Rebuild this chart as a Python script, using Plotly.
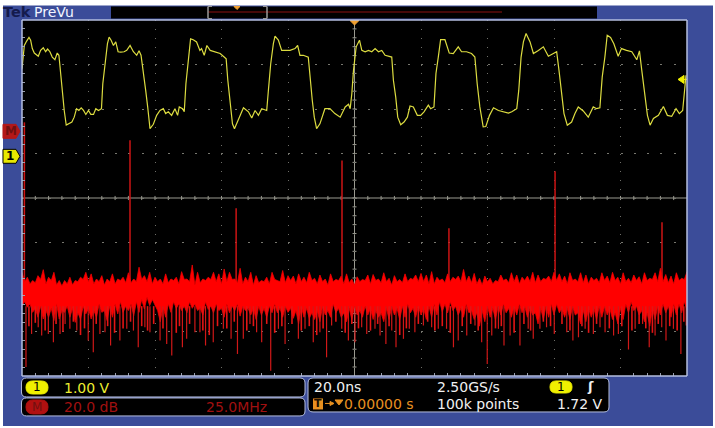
import plotly.graph_objects as go

# Channel 1 trace: time in ns, level in volts (1 V/div)
ch1_time = [-100.0, -99.6, -99.3, -98.6, -97.9, -97.4, -96.9, -96.3, -95.6, -95.1, -94.4, -93.6, -92.9, -92.3, -91.6,
            -90.9, -90.1, -89.4, -88.9, -88.4, -87.8, -87.3, -86.7, -85.8, -85.0, -84.3, -83.6, -82.9, -82.2, -81.5,
            -80.8, -80.0, -79.3, -78.5, -77.8, -77.0, -76.1, -75.7, -75.0, -74.3, -73.8, -73.2, -72.5, -71.8, -71.1,
            -70.3, -69.3, -68.5, -67.5, -66.5, -65.5, -64.8, -64.2, -63.5, -62.8, -62.2, -61.5, -60.5, -59.5, -58.5,
            -57.5, -56.8, -56.0, -55.0, -54.0, -53.2, -52.7, -51.7, -51.2, -50.7, -50.0, -49.3, -48.5, -47.5, -46.5,
            -46.0, -45.2, -44.4, -43.4, -41.9, -40.4, -39.2, -38.6, -38.1, -37.4, -36.7, -36.1, -35.2, -34.2, -33.4,
            -31.9, -30.9, -29.9, -28.9, -27.9, -26.4, -25.9, -25.2, -24.4, -23.9, -22.9, -21.9, -20.9, -19.4, -17.9,
            -17.1, -16.4, -15.4, -13.9, -13.4, -12.7, -12.1, -11.4, -10.4, -8.9, -7.4, -5.9, -4.3, -2.8, -1.8,
            -1.3, -0.8, -0.3, 0.5, 1.5, 2.2, 3.2, 4.2, 5.2, 6.2, 7.2, 8.2, 9.2, 11.2, 11.7,
            12.4, 13.0, 13.9, 14.9, 15.9, 16.7, 17.7, 18.9, 19.9, 20.9, 22.2, 22.9, 23.9, 24.5, 25.2,
            25.9, 27.2, 28.5, 29.7, 31.2, 32.2, 33.7, 35.2, 36.2, 36.9, 37.7, 38.7, 39.5, 40.6, 41.8,
            43.3, 44.8, 46.3, 47.3, 48.8, 49.4, 50.1, 50.8, 51.6, 52.8, 53.8, 55.3, 56.8, 58.3, 60.8,
            61.5, 62.3, 63.0, 64.0, 65.3, 66.3, 67.3, 68.8, 70.3, 71.8, 72.8, 73.8, 74.5, 75.3, 76.0,
            77.0, 78.0, 79.3, 80.3, 81.8, 83.4, 84.9, 85.7, 86.4, 87.4, 88.1, 88.9, 89.9, 91.4, 92.9,
            94.1, 95.4, 96.7, 97.7, 98.7, 99.4, 99.7]
ch1_volts = [1.97, 2.27, 2.49, 2.59, 2.67, 2.61, 2.42, 2.32, 2.27, 2.25, 2.38, 2.44, 2.35, 2.41, 2.35,
             2.23, 2.17, 2.32, 2.27, 1.86, 1.33, 1.03, 0.70, 0.73, 0.77, 0.88, 1.07, 1.03, 1.09, 1.03,
             0.94, 1.03, 0.94, 0.94, 1.07, 1.03, 1.07, 1.63, 2.12, 2.53, 2.68, 2.61, 2.49, 2.57, 2.35,
             2.34, 2.35, 2.38, 2.49, 2.35, 2.27, 2.37, 2.27, 1.93, 1.48, 1.11, 0.62, 0.72, 0.92, 1.03,
             1.07, 0.96, 1.00, 0.92, 1.07, 0.92, 1.11, 1.07, 1.00, 1.63, 2.23, 2.64, 2.62, 2.57, 2.38,
             2.42, 2.27, 2.49, 2.38, 2.35, 2.31, 2.23, 2.19, 1.71, 1.18, 0.73, 0.62, 0.77, 0.92, 1.09,
             1.00, 0.86, 1.03, 0.92, 1.07, 1.03, 1.48, 2.08, 2.53, 2.70, 2.61, 2.38, 2.38, 2.38, 2.42,
             2.49, 2.27, 2.27, 2.23, 1.78, 1.26, 0.88, 0.62, 0.73, 1.07, 1.07, 0.96, 0.88, 1.11, 1.17,
             1.07, 1.41, 1.93, 2.46, 2.61, 2.38, 2.35, 2.38, 2.35, 2.42, 2.35, 2.38, 2.27, 2.23, 1.71,
             1.33, 0.88, 0.71, 0.77, 0.88, 1.13, 1.11, 0.92, 0.92, 1.00, 1.15, 1.07, 1.11, 1.86, 2.23,
             2.62, 2.62, 2.32, 2.31, 2.46, 2.35, 2.35, 2.31, 2.23, 1.63, 1.11, 0.66, 0.67, 0.92, 1.09,
             1.03, 1.00, 0.97, 1.00, 1.07, 1.48, 2.23, 2.57, 2.76, 2.57, 2.31, 2.38, 2.46, 2.25, 2.35,
             1.93, 1.33, 0.96, 0.70, 0.77, 0.96, 1.11, 1.02, 0.88, 1.11, 1.07, 1.09, 1.78, 2.23, 2.72,
             2.67, 2.53, 2.25, 2.42, 2.38, 2.35, 2.17, 2.37, 1.93, 1.33, 0.92, 0.70, 0.85, 0.92, 1.12,
             0.92, 0.90, 1.07, 0.96, 1.03, 1.71, 1.82]

# FFT math trace: top and bottom edge of the noise band in dB, even MHz (crests) and odd MHz (notches)
band_top = [-63.8, -66, -67.5, -65.3, -62.6, -66, -63.8, -67.5, -67.5, -66, -67.5, -66, -63.8, -64.5, -66.8, -65.3,
            -66.8, -64.5, -66.8, -66, -64, -66.8, -61.5, -65.3, -63.8, -66,
            -66.8, -64.5, -66.8, -66, -63.5, -66.8, -60.5, -63.8, -66.8, -66, -63.8, -64.5, -62.3, -63.8, -66.8,
            -62, -66, -63.8, -65.3, -67.5, -66, -63.8, -67.5, -63, -65.3,
            -65.5, -64.5, -66, -63.8, -66.5, -65, -66.8, -64.5, -67, -65.5, -64.5, -66.8, -65.8, -67, -65,
            -64.8, -66.8, -64, -66.5, -65.3, -67, -64.5, -66.5, -65, -64.3,
            -65, -63.5, -66, -66.8, -64.5, -66, -65.5, -62.5, -65.5, -64.3, -66.5, -65.5, -66.5, -67.5, -65,
            -66.8, -64, -65, -66, -65.5, -63.8, -65, -66.5, -65.5, -63.8,
            -64.5, -65.5, -64, -66.8, -64, -65, -66, -66.5, -64, -65.5, -63.8, -66, -64, -66.5, -65,
            -65.8, -64, -66.5, -64, -62, -64.8, -65.5, -64, -66.5, -63.5]
band_top_odd = [-68, -69, -68.5, -67, -69, -67.5, -69.5, -70, -69, -69.5, -68, -67, -68, -69, -68, -69.5, -68, -69,
                -67.5, -68.5, -68.5, -68, -67, -68, -69,
                -68, -69, -68.5, -67.5, -69, -67, -68, -69.5, -68.5, -67.5, -67, -68, -69, -68, -67, -68.5, -69, -68,
                -69.5, -68.5, -68, -69, -67, -68, -68.5,
                -67.5, -69, -68, -68.5, -67.5, -69, -68, -69.5, -68, -67.5, -69, -68.5, -69.5, -68, -67.5, -69, -67.5,
                -68.5, -68, -69.5, -68, -68.5, -68, -67, -68,
                -68, -69, -69, -67.5, -68.5, -68, -67, -68, -68, -68.5, -69, -69.5, -68, -69, -68, -67.5, -68.5, -68,
                -69, -67.5, -68, -68.5, -68, -67, -68,
                -67.5, -68, -69, -67.5, -68, -68.5, -69, -67.5, -68.5, -67.5, -68.5, -67.5, -69, -68, -68.5, -67.5,
                -69, -67.5, -67, -68, -68, -68.5, -69, -67.5, -67]
band_bottom = [-78.8, -79.5, -81.8, -84, -84.8, -84, -85.5, -84.8, -81.8, -84, -86.3, -84.8, -82.5, -84.8, -84, -81.8,
               -85.5, -84, -82.5, -81.8, -81, -83.3, -81.8, -80.3, -78.8, -78.8,
               -86, -84, -81.8, -80, -81, -82, -80, -81, -83, -80.5, -82, -81, -84, -82, -81,
               -83.5, -81, -83, -85, -83, -84, -82, -82, -84, -81.8,
               -84.5, -87, -84, -84.5, -85, -86, -83, -84, -82, -84, -86, -85, -83, -84, -83,
               -85, -84, -86, -85, -83, -85, -84, -82, -84, -83,
               -85, -84, -83, -81.5, -82, -81, -83, -84, -82, -85, -88, -86, -84, -85, -83,
               -82, -84, -83, -82, -84, -83, -87, -85, -84, -83,
               -82, -84, -85, -83, -87, -86, -84, -85, -84, -83, -85, -87, -85, -82, -81,
               -83, -86, -88, -85, -83, -82, -84, -83, -82, -81]
band_bottom_odd = [-77, -78, -80, -79, -81, -80, -78, -81, -79, -80, -82, -79, -80, -81, -78, -81, -79, -78, -77, -79,
                   -78, -77, -76, -75, -76,
                   -81, -79, -78, -77, -78, -79, -77, -78, -80, -77, -79, -78, -80, -78, -79, -78, -79, -80, -80, -79,
                   -80, -79, -78, -80, -79,
                   -80, -81, -79, -80, -82, -81, -79, -81, -78, -80, -82, -80, -79, -81, -79, -80, -81, -82, -80, -79,
                   -80, -79, -78, -80, -79,
                   -80, -79, -78, -77, -78, -77, -79, -80, -78, -81, -82, -81, -79, -80, -79, -78, -80, -79, -78, -79,
                   -80, -82, -80, -79, -78,
                   -78, -80, -80, -79, -82, -81, -80, -80, -79, -79, -80, -82, -80, -78, -77, -79, -81, -82, -80, -79,
                   -78, -79, -78, -78, -77]

# Deep dips below the band
dip_freq = [1.5, 3.6, 6.1, 7.4, 9.9, 11.8, 14.3, 16.2, 18.0, 20.6, 24.9, 26.8, 29.3, 31.2, 33.3, 36.8, 39.4, 41.9,
            43.7, 46.2, 48.1, 51.9, 54.4, 56.3, 60.3, 61.9, 65.0, 66.9, 69.0, 71.9, 75.7, 78.6, 81.0, 83.2, 85.7,
            88.2, 90.1, 93.5, 96.4, 98.9, 103.9, 106.4, 109.5, 112.0, 114.5, 116.4, 120.2, 122.7, 125.2, 127.7,
            129.6, 132.7, 134.6, 136.8, 139.0, 140.6, 143.4, 145.6, 147.7, 150.9, 154.0, 156.5, 159.6, 162.2,
            164.0, 167.2, 170.3, 172.8, 174.9, 176.6, 179.1, 181.2, 183.5, 187.2, 190.3, 192.2, 194.7, 197.2,
            200.1, 204.8, 207.1, 209.2, 211.7, 214.8, 217.3, 219.2, 222.4, 224.2, 228.0, 230.5, 233.3, 235.8,
            238.0, 240.5, 242.1, 244.9, 247.7, 249.7]
dip_db = [-106.4, -91.5, -88.5, -92.2, -91.5, -95.2, -91.5, -87, -89.2, -90, -94.5, -99.7, -91.5, -90.7, -96.7, -94.5,
          -89.2, -90, -97.5, -88.5, -90.7, -94.5, -96, -101.2, -97.5, -93.7, -90.7, -90.7, -96.7, -95.2, -89.2,
          -93.7, -100.5, -93.7, -87, -90.7, -95.2, -108, -89.2, -96, -93.7, -89.2, -95.2, -90.7, -102, -87.7,
          -89.2, -94.5, -95.2, -88.5, -91.5, -89.2, -92.2, -96, -90, -97.5, -93.7, -89.2, -90.7, -87.7, -88.5,
          -89.2, -89.2, -97.5, -94.5, -92.2, -87.7, -95.2, -105, -92.2, -89.2, -96.7, -92.2, -96.7, -89.2, -93.7,
          -89.2, -88.5, -91.5, -90.7, -94.5, -93, -89.2, -91.5, -88.5, -90.7, -92.2, -91.5, -98.5, -89.2, -87,
          -97.5, -92.2, -88.5, -94.5, -89.2, -100.5, -87.7]

# Shorter dips between the deep ones
short_freq = [2.6, 5, 8.7, 12.8, 15.4, 19.3, 22, 23.5, 27.9, 32.2, 34.8, 38, 40.8, 45, 47.2, 49.5, 53, 58, 59.2, 63,
              68, 70.4, 73.5, 77, 79.8, 84.5, 87, 92, 95, 97.7, 101.5, 105, 108, 110.8, 113.2, 118, 121.5, 124, 126.5,
              131, 133.7, 138, 142, 144.5, 149, 152.5, 155.2, 158, 161, 165.5, 168.7, 171.5, 178, 180.2, 185, 188.7,
              191.2, 196, 198.7, 203, 206, 210.5, 213, 216, 220.8, 225.5, 229.3, 232, 234.5, 237, 239.2, 243.5, 246.3,
              248.8]
short_db = [-88, -86.5, -90, -87, -90.5, -86, -92, -89, -87, -88, -91, -89, -86, -88, -90, -87, -89, -91, -88, -87,
            -90, -92, -88, -89, -86, -90, -88, -87, -91, -88, -87, -90, -88, -92, -89, -86, -91, -87, -89, -90,
            -87, -88, -92, -89, -87, -86, -90, -88, -91, -88, -87, -90, -89, -88, -91, -87, -90, -86, -88, -87,
            -90, -88, -91, -87, -89, -88, -90, -87, -89, -91, -87, -88, -90, -86]

# Clock harmonics and the DC line
peak_freq = [0.9, 40.6, 80.5, 120.3, 160.5, 200.4, 240.6]
peak_db = [3.6, -4.5, -35, -13.5, -44, -18.4, -41.3]

PAGE_W, PAGE_H = 715, 428
L, T, R, B = 22, 19.5, 687, 376
BLUE = "#3b4c99"
EDGE = "#b4bedf"
GRID = "#9a9a90"


def fx(px):
    return (px - L) / (R - L)


def fy(py):
    return (B - py) / (B - T)


def rect(x0, y0, x1, y1, fill, line=None, width=0):
    return dict(type="rect", xref="paper", yref="paper", x0=fx(x0), x1=fx(x1), y0=fy(y0), y1=fy(y1),
                fillcolor=fill, line=dict(color=line or fill, width=width), layer="above")


def poly(points, fill, line=None, width=1):
    path = "M " + " L ".join("{:.4f},{:.4f}".format(fx(a), fy(b)) for a, b in points) + " Z"
    return dict(type="path", xref="paper", yref="paper", path=path, fillcolor=fill,
                line=dict(color=line or fill, width=width), layer="above")


def rounded(x0, y0, x1, y1, r, fill, line=None, width=1):
    p = lambda a, b: "{:.4f},{:.4f}".format(fx(a), fy(b))
    path = ("M " + p(x0 + r, y0) + " L " + p(x1 - r, y0) + " Q " + p(x1, y0) + " " + p(x1, y0 + r)
            + " L " + p(x1, y1 - r) + " Q " + p(x1, y1) + " " + p(x1 - r, y1)
            + " L " + p(x0 + r, y1) + " Q " + p(x0, y1) + " " + p(x0, y1 - r)
            + " L " + p(x0, y0 + r) + " Q " + p(x0, y0) + " " + p(x0 + r, y0) + " Z")
    return dict(type="path", xref="paper", yref="paper", path=path, fillcolor=fill,
                line=dict(color=line or fill, width=width), layer="above")


def seg(x0, y0, x1, y1, color, width=1, layer="above"):
    return dict(type="line", xref="paper", yref="paper", x0=fx(x0), x1=fx(x1), y0=fy(y0), y1=fy(y1),
                line=dict(color=color, width=width), layer=layer)


def label(px, py, text, color, size=14, anchor="left", family="DejaVu Sans", bold=False):
    if bold:
        text = "<b>" + text + "</b>"
    # annotations carry a couple of px of padding on the left
    shift = 2 if anchor == "left" else 0
    return dict(xref="paper", yref="paper", x=fx(px - shift), y=fy(py), text=text, showarrow=False,
                xanchor=anchor, yanchor="middle", align=anchor,
                font=dict(color=color, size=size, family=family))


def stems(freqs, levels, start):
    xs, ys = [], []
    for f, d in zip(freqs, levels):
        xs += [f, f, None]
        ys += [start, d, None]
    return xs, ys


# crests on even MHz, notches on odd MHz, the last crest closes the edge
edge_freq, edge_top, edge_bottom = [], [], []
for i in range(len(band_top_odd)):
    edge_freq += [2 * i, 2 * i + 1]
    edge_top += [band_top[i], band_top_odd[i]]
    edge_bottom += [band_bottom[i], band_bottom_odd[i]]
edge_freq.append(250)
edge_top.append(band_top[-1])
edge_bottom.append(band_bottom[-1])

fig = go.Figure()

# Math trace on its own frequency / dB axes
peak_x, peak_y = stems(peak_freq, peak_db, -70)
fig.add_trace(go.Scatter(x=peak_x, y=peak_y, xaxis="x2", yaxis="y2", mode="lines",
                         line=dict(color="#cc1414", width=1.5), hoverinfo="skip"))
fig.add_trace(go.Scatter(x=edge_freq + edge_freq[::-1], y=edge_top + edge_bottom[::-1],
                         xaxis="x2", yaxis="y2", mode="lines", fill="toself", fillcolor="#ff0000",
                         line=dict(color="#f00000", width=0.8), hoverinfo="skip"))
short_x, short_y = stems(short_freq, short_db, -79)
fig.add_trace(go.Scatter(x=short_x, y=short_y, xaxis="x2", yaxis="y2", mode="lines",
                         line=dict(color="#e41414", width=1.6), hoverinfo="skip"))
dip_x, dip_y = stems(dip_freq, dip_db, -79)
fig.add_trace(go.Scatter(x=dip_x, y=dip_y, xaxis="x2", yaxis="y2", mode="lines",
                         line=dict(color="#d01818", width=1.2), hoverinfo="skip"))
fig.add_trace(go.Scatter(x=ch1_time, y=ch1_volts, mode="lines",
                         line=dict(color="#dcdc40", width=1.2), hoverinfo="skip"))

# Screen furniture: the blue frame is four strips so the black screen stays open
shapes = [
    rect(3, 5, 713, T, BLUE),
    rect(3, B, 713, 426, BLUE),
    rect(3, T, L, B, BLUE),
    rect(R, T, 713, B, BLUE),
    rect(111, 6, 597, 18, "#000000"),
    seg(208, 11.5, 502, 11.5, "#8c1010", 1),
    seg(208, 6, 208, 18, "#9a9a9a", 1.5),
    seg(267, 6, 267, 18, "#9a9a9a", 1.5),
    seg(208, 6, 212, 6, "#9a9a9a", 1),
    seg(208, 18, 212, 18, "#9a9a9a", 1),
    seg(263, 6, 267, 6, "#9a9a9a", 1),
    seg(263, 18, 267, 18, "#9a9a9a", 1),
    poly([(234, 6), (240, 6), (237, 9)], "#f0a030"),
    poly([(350, 20), (359, 20), (354.5, 24.5)], "#f0a030"),
    poly([(678, 79), (684, 75), (684, 83)], "#f0f000"),
    seg(684, 79, 687, 79, "#f0f000", 1),
    # frame line round the screen
    seg(L, T, R, T, EDGE, 1.5),
    seg(L, B, R, B, EDGE, 1.5),
    seg(L, T, L, B, EDGE, 1.5),
    seg(R, T, R, B, EDGE, 1.5),
    # channel markers
    poly([(3, 124), (16, 124), (20, 131), (16, 138), (3, 138)], "#b41818"),
    poly([(3, 149), (16, 149), (20, 156), (16, 163), (3, 163)], "#e8e800", "#000000", 1),
    # readout panels
    rounded(21.5, 378, 305, 397, 5, "#000000", EDGE, 1),
    rounded(21.5, 398, 305, 416, 5, "#000000", EDGE, 1),
    rounded(308, 378, 609, 412, 5, "#000000", EDGE, 1),
    rounded(26, 381, 48, 394, 6.5, "#f0f000"),
    rounded(26, 400, 48, 414, 7, "#b01010"),
    rounded(550, 381, 572, 393, 6, "#f0f000"),
    rect(313, 398.5, 323, 409.5, "#e89020"),
    poly([(335, 400), (343, 400), (339, 405)], "#e89020"),
    seg(325, 403.5, 331, 403.5, "#e89020", 1),
    poly([(330, 401.5), (334, 403.5), (330, 405.5)], "#e89020"),
    # crosshair through the middle of the screen, behind the traces
    seg(354.5, T, 354.5, B, GRID, 1, "below"),
    seg(L, 197.75, R, 197.75, GRID, 1, "below"),
]
for i in range(1, 50):
    shapes.append(seg(L + i * 13.3, 195.7, L + i * 13.3, 199.8, GRID, 1, "below"))
for i in range(1, 40):
    shapes.append(seg(352.5, T + i * 8.91, 356.5, T + i * 8.91, GRID, 1, "below"))

annotations = [
    label(3, 11.5, "Tek", "#141a4c", 14.5, bold=True),
    label(34, 11.5, "PreVu", "#f2f4ff", 14),
    label(11, 131, "M", "#701010", 12, "center", bold=True),
    label(10, 156, "1", "#000000", 12, "center", bold=True),
    label(37, 387.5, "1", "#000000", 12, "center"),
    label(64, 388, "1.00 V", "#eeee30"),
    label(37, 407, "M", "#701010", 12, "center"),
    label(64, 407, "20.0 dB", "#a01010"),
    label(206, 407, "25.0MHz", "#a01010"),
    label(314, 387.5, "20.0ns", "#f0f0f0"),
    label(437, 387.5, "2.50GS/s", "#f0f0f0"),
    label(561, 387, "1", "#000000", 12, "center"),
    label(590, 387, "ʃ", "#f0f0f0", 13, "center", bold=True),
    label(318, 404, "T", "#201000", 11, "center", bold=True),
    label(344, 404, "0.00000 s", "#e89020"),
    label(437, 404, "100k points", "#f0f0f0"),
    label(557, 404, "1.72 V", "#f0f0f0"),
]

tick_color = "#9aa0b0"
fig.update_layout(
    width=PAGE_W,
    height=PAGE_H,
    margin=dict(l=L, r=PAGE_W - R, t=T, b=PAGE_H - B, pad=0),
    paper_bgcolor="white",
    plot_bgcolor="black",
    showlegend=False,
    shapes=shapes,
    annotations=annotations,
    xaxis=dict(range=[-100, 100], dtick=20, tick0=-100, showticklabels=False, zeroline=False, ticks="",
               gridcolor="#6e6e68", griddash="1px,7.9px", gridwidth=1, mirror="ticks",
               minor=dict(dtick=4, tick0=-100, ticks="inside", ticklen=3, tickcolor=tick_color, showgrid=False)),
    yaxis=dict(range=[-4.937, 3.063], dtick=1, tick0=-0.937, showticklabels=False, zeroline=False, ticks="",
               gridcolor="#77776f", griddash="2px,11.3px", gridwidth=1, mirror="ticks",
               minor=dict(dtick=0.2, tick0=-0.937, ticks="inside", ticklen=3, tickcolor=tick_color, showgrid=False)),
    xaxis2=dict(range=[0, 250], overlaying="x", visible=False),
    yaxis2=dict(range=[-110.4, 49.6], overlaying="y", visible=False),
)

fig.write_html("out.html", config=dict(displayModeBar=False),
               post_script="document.body.style.margin='0';document.body.style.overflow='hidden';")
